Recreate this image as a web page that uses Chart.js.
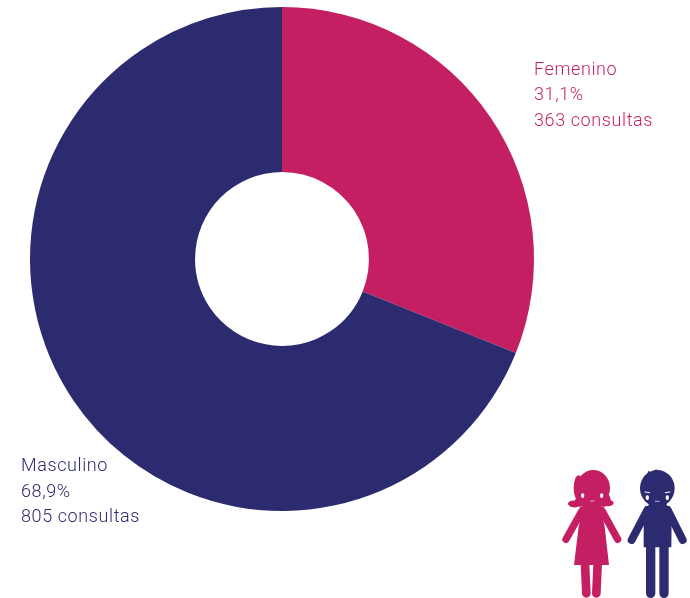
<!DOCTYPE html>
<html>
<head>
<meta charset="utf-8">
<style>
  html, body { margin: 0; padding: 0; background: #fff; }
  #wrap { position: relative; width: 690px; height: 598px; }
</style>
<script src="https://cdn.jsdelivr.net/npm/chart.js@4"></script>
</head>
<body>
<div id="wrap"><canvas id="sexo" width="690" height="598"></canvas></div>
<script>
const categories = ['Femenino', 'Masculino'];
const consultas = [363, 805];
const percentLabels = ['31,1%', '68,9%'];
const colors = ['#c51f63', '#2d2b70'];

// where each three-line label starts (left edge, first baseline)
const labelSpots = [[534, 74.5], [21, 471]];

function line(c, x1, y1, x2, y2, w) {
  c.lineWidth = w;
  c.beginPath();
  c.moveTo(x1, y1);
  c.lineTo(x2, y2);
  c.stroke();
}

function poly(c, pts) {
  c.beginPath();
  pts.forEach((p, i) => i ? c.lineTo(p[0], p[1]) : c.moveTo(p[0], p[1]));
  c.closePath();
  c.fill();
}

function blob(c, x, y, rx, ry, rot) {
  c.beginPath();
  c.ellipse(x, y, rx, ry, rot || 0, 0, Math.PI * 2);
  c.fill();
}

function drawGirl(c) {
  c.fillStyle = c.strokeStyle = colors[0];
  c.lineCap = 'round';
  blob(c, 130, 84, 50, 54);
  blob(c, 86, 84, 15, 38);
  poly(c, [[84, 105], [178, 105], [184, 125], [165, 140], [88, 140], [72, 125]]);
  blob(c, 72, 132, 18, 10, 0.1);
  blob(c, 176, 130, 15, 9, -0.1);
  poly(c, [[100, 136], [152, 136], [164, 200], [177, 315], [72, 315], [86, 200]]);
  line(c, 96, 152, 48, 238, 22);
  line(c, 156, 152, 203, 238, 22);
  line(c, 105, 312, 109, 400, 26);
  line(c, 143, 312, 139, 400, 26);
  c.fillStyle = c.strokeStyle = '#fff';
  blob(c, 98, 107, 5, 7);
  blob(c, 155, 107, 5, 7);
  line(c, 122, 123, 132, 123, 2);
}

function drawBoy(c) {
  c.fillStyle = c.strokeStyle = colors[1];
  c.lineCap = 'round';
  blob(c, 322, 85, 52, 55);
  poly(c, [[286, 52], [296, 32], [304, 38], [318, 28], [340, 40], [320, 60]]);
  poly(c, [[298, 130], [348, 130], [365, 165], [364, 262], [281, 262], [281, 165]]);
  line(c, 292, 150, 245, 240, 24);
  line(c, 353, 150, 398, 240, 24);
  line(c, 302, 258, 302, 400, 28);
  line(c, 342, 258, 342, 400, 28);
  c.fillStyle = c.strokeStyle = '#fff';
  blob(c, 292, 113, 5, 7);
  blob(c, 352, 113, 5, 7);
  line(c, 285, 96, 299, 98, 3);
  line(c, 346, 98, 360, 96, 3);
  line(c, 316, 124, 328, 124, 2);
}

const annotations = {
  id: 'annotations',
  afterDraw(chart) {
    const c = chart.ctx;
    c.save();
    c.font = '300 18px Roboto';
    c.letterSpacing = '0.6px';
    c.textBaseline = 'alphabetic';
    categories.forEach((name, i) => {
      const lines = [name, percentLabels[i], consultas[i] + ' consultas'];
      c.fillStyle = colors[i];
      lines.forEach((t, j) => c.fillText(t, labelSpots[i][0], labelSpots[i][1] + j * 25.5));
    });
    c.restore();

    // the two little figures, bottom right
    c.save();
    c.translate(550, 460);
    c.scale(1 / 3, 1 / 3);
    drawGirl(c);
    drawBoy(c);
    c.restore();
  }
};

new Chart(document.getElementById('sexo'), {
  type: 'doughnut',
  data: {
    labels: categories,
    datasets: [{
      data: consultas,
      backgroundColor: colors,
      borderWidth: 0
    }]
  },
  options: {
    responsive: false,
    animation: false,
    cutout: '34.5%',
    layout: { padding: { left: 30, top: 7, right: 156, bottom: 87 } },
    plugins: {
      legend: { display: false },
      tooltip: { enabled: false }
    }
  },
  plugins: [annotations]
});
</script>
</body>
</html>
